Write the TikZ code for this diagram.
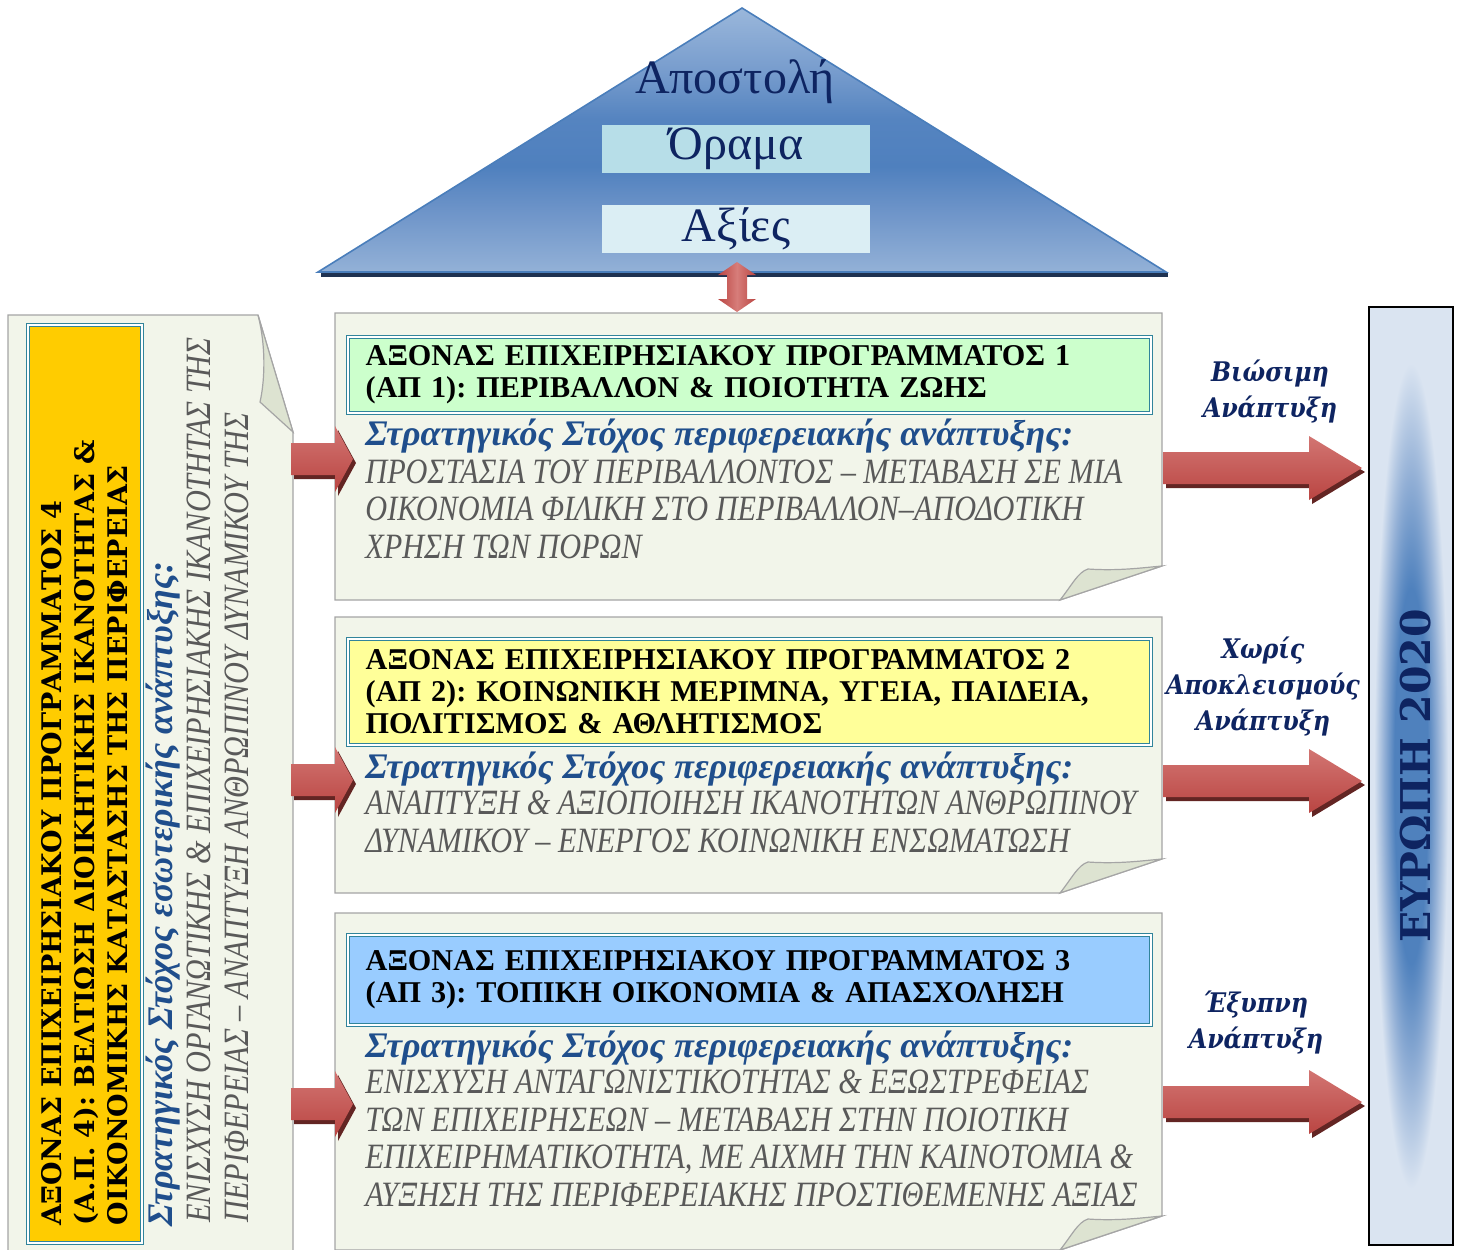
\documentclass[tikz,border=0pt]{standalone}
\usepackage{fontspec}
\setmainfont{Liberation Serif}
\newfontfamily\narrowserif[FakeStretch=0.85]{Liberation Serif}
\newfontfamily\bookserif{DejaVu Serif}
\newfontfamily\booknarrow[FakeStretch=0.88]{DejaVu Serif}
\frenchspacing

\definecolor{paperfill}{HTML}{F2F5EA}
\definecolor{paperedge}{HTML}{A5A5A5}
\definecolor{foldfill}{HTML}{DDE3D1}
\definecolor{axisteal}{HTML}{31849B}
\definecolor{axisgreen}{HTML}{CCFFCC}
\definecolor{axisyellow}{HTML}{FFFF99}
\definecolor{axisblue}{HTML}{99CCFF}
\definecolor{axisgold}{HTML}{FFCC00}
\definecolor{goalblue}{HTML}{1F4E8C}
\definecolor{goalgrey}{HTML}{595959}
\definecolor{navytext}{HTML}{0E2461}
\definecolor{roofA}{HTML}{93B1D7}
\definecolor{roofB}{HTML}{6C93C8}
\definecolor{roofC}{HTML}{4F80BE}
\definecolor{roofD}{HTML}{5584C0}
\definecolor{roofE}{HTML}{779CCD}
\definecolor{roofF}{HTML}{9AB7DB}
\definecolor{roofedge}{HTML}{4A7EBB}
\definecolor{roofshadow}{HTML}{1F3251}
\definecolor{visionfill}{HTML}{B7DEE8}
\definecolor{valuesfill}{HTML}{DBEEF4}
\definecolor{arrowlight}{HTML}{D27572}
\definecolor{arrowmid}{HTML}{D77D7A}
\definecolor{arrowred}{HTML}{BA4542}
\definecolor{arrowdark}{HTML}{632523}
\definecolor{europelight}{HTML}{DAE4F1}
\definecolor{europemid}{HTML}{93B0D6}
\definecolor{europedark}{HTML}{4F81BD}

% the path box covers 25bp--75bp of these shadings
\pgfdeclareverticalshading{roofshade}{100bp}{color(0bp)=(roofA); color(25bp)=(roofA); color(37bp)=(roofB); color(45bp)=(roofC); color(54bp)=(roofD); color(63bp)=(roofE); color(75bp)=(roofF); color(100bp)=(roofF)}
\pgfdeclareradialshading{europeshade}{\pgfpoint{0bp}{0bp}}{color(0bp)=(europedark); color(10bp)=(europedark); color(16bp)=(europemid); color(22bp)=(europelight); color(50bp)=(europelight)}

\tikzset{
  papernote/.style={fill=paperfill, draw=paperedge, line width=0.6pt},
  paperfold/.style={fill=foldfill, draw=paperedge, line width=0.6pt},
  axisbox/.style={draw=axisteal, double=white, double distance=0.8pt, line width=0.7pt,
    anchor=north west, inner xsep=9pt, inner ysep=0pt, text width=383.5pt, align=left,
    font=\fontsize{15.1}{16}\selectfont\bfseries},
  goaltitle/.style={anchor=base west, inner sep=0pt, text=goalblue,
    font=\fontsize{18}{19}\selectfont\bfseries\itshape},
  goaltext/.style={anchor=base west, inner sep=0pt, align=left, text=goalgrey,
    font=\narrowserif\itshape\fontsize{17.8}{18.75}\selectfont},
  growthtag/.style={align=center, inner sep=0pt, text=navytext,
    font=\booknarrow\bfseries\itshape\fontsize{13.5}{18}\selectfont},
  roofword/.style={inner sep=0pt, text=navytext, font=\fontsize{24}{26}\selectfont},
  redshaft/.style={top color=arrowlight, bottom color=arrowred},
  redshadow/.style={fill=arrowdark},
}

\begin{document}
\begin{tikzpicture}[x=0.5pt, y=-0.5pt]
	\clip (0,0) rectangle (1459,1249);

	% roof: mission, vision, values
	\fill[roofshadow] (321,272) rectangle (1168,277);
	\shadedraw[shading=roofshade, draw=roofedge, line width=0.8pt] (318,272) -- (742,8) -- (1166,272) -- cycle;
	\node[roofword] (mission) at (735,82) {Αποστολή};
	\node[roofword, fill=visionfill, minimum width=134pt, minimum height=24pt] (vision) at (736,149) {Όραμα};
	\node[roofword, fill=valuesfill, minimum width=134pt, minimum height=24pt] (values) at (736,229) {Αξίες};

	% left note (axis 4)
	\draw[papernote] (8,315) -- (258,315) -- (293,432) -- (293,1252) -- (8,1252) -- cycle;
	\draw[paperfold] (258,315) .. controls (267,350) and (264,385) .. (260,402) -- (293,432) -- cycle;

	% notes of axes 1-3
	\foreach \top/\bot in {313/600, 617/893, 913/1250} {
		\draw[papernote] (335,\top) -- (1162,\top) -- (1162,\bot-34) -- (1060,\bot) -- (335,\bot) -- cycle;
		\draw[paperfold] (1060,\bot) .. controls (1072,\bot-15) and (1078,\bot-28) .. (1088,\bot-31)
			.. controls (1118,\bot-29) and (1140,\bot-32) .. (1162,\bot-34) -- cycle;
	}

	\node[axisbox, fill=axisgreen, minimum height=38pt] (ax1) at (347,336)
		{ΑΞΟΝΑΣ ΕΠΙΧΕΙΡΗΣΙΑΚΟΥ ΠΡΟΓΡΑΜΜΑΤΟΣ 1\\(ΑΠ 1): ΠΕΡΙΒΑΛΛΟΝ \& ΠΟΙΟΤΗΤΑ ΖΩΗΣ};
	\node[axisbox, fill=axisyellow, minimum height=53pt] (ax2) at (347,638)
		{ΑΞΟΝΑΣ ΕΠΙΧΕΙΡΗΣΙΑΚΟΥ ΠΡΟΓΡΑΜΜΑΤΟΣ 2\\\makebox[384pt][s]{(ΑΠ 2): ΚΟΙΝΩΝΙΚΗ ΜΕΡΙΜΝΑ, ΥΓΕΙΑ, ΠΑΙΔΕΙΑ,}\\ΠΟΛΙΤΙΣΜΟΣ \& ΑΘΛΗΤΙΣΜΟΣ};
	\node[axisbox, fill=axisblue, minimum height=45pt] (ax3) at (347,934)
		{ΑΞΟΝΑΣ ΕΠΙΧΕΙΡΗΣΙΑΚΟΥ ΠΡΟΓΡΑΜΜΑΤΟΣ 3\\(ΑΠ 3): ΤΟΠΙΚΗ ΟΙΚΟΝΟΜΙΑ \& ΑΠΑΣΧΟΛΗΣΗ};

	% goal texts, anchored at their last line
	\node[goaltitle] (goal1) at (365,445) {Στρατηγικός Στόχος περιφερειακής ανάπτυξης:};
	\node[goaltext] (text1) at (365,558) {ΠΡΟΣΤΑΣΙΑ ΤΟΥ ΠΕΡΙΒΑΛΛΟΝΤΟΣ – ΜΕΤΑΒΑΣΗ ΣΕ ΜΙΑ\\ΟΙΚΟΝΟΜΙΑ ΦΙΛΙΚΗ ΣΤΟ ΠΕΡΙΒΑΛΛΟΝ–ΑΠΟΔΟΤΙΚΗ\\ΧΡΗΣΗ ΤΩΝ ΠΟΡΩΝ};
	\node[goaltitle] (goal2) at (365,778) {Στρατηγικός Στόχος περιφερειακής ανάπτυξης:};
	\node[goaltext] (text2) at (365,852) {ΑΝΑΠΤΥΞΗ \& ΑΞΙΟΠΟΙΗΣΗ ΙΚΑΝΟΤΗΤΩΝ ΑΝΘΡΩΠΙΝΟΥ\\ΔΥΝΑΜΙΚΟΥ – ΕΝΕΡΓΟΣ ΚΟΙΝΩΝΙΚΗ ΕΝΣΩΜΑΤΩΣΗ};
	\node[goaltitle] (goal3) at (365,1057) {Στρατηγικός Στόχος περιφερειακής ανάπτυξης:};
	\node[goaltext] (text3) at (365,1206) {ΕΝΙΣΧΥΣΗ ΑΝΤΑΓΩΝΙΣΤΙΚΟΤΗΤΑΣ \& ΕΞΩΣΤΡΕΦΕΙΑΣ\\ΤΩΝ ΕΠΙΧΕΙΡΗΣΕΩΝ – ΜΕΤΑΒΑΣΗ ΣΤΗΝ ΠΟΙΟΤΙΚΗ\\ΕΠΙΧΕΙΡΗΜΑΤΙΚΟΤΗΤΑ, ΜΕ ΑΙΧΜΗ ΤΗΝ ΚΑΙΝΟΤΟΜΙΑ \&\\ΑΥΞΗΣΗ ΤΗΣ ΠΕΡΙΦΕΡΕΙΑΚΗΣ ΠΡΟΣΤΙΘΕΜΕΝΗΣ ΑΞΙΑΣ};

	% axis 4, written upwards
	\node[rotate=90, draw=axisteal, double=white, double distance=0.8pt, line width=0.7pt, fill=axisgold,
		minimum width=459pt, minimum height=57pt, inner xsep=9pt, inner ysep=0pt, text width=441pt, align=left,
		font=\bookserif\bfseries\fontsize{13.5}{16.5}\selectfont] (ax4) at (85,784)
		{ΑΞΟΝΑΣ ΕΠΙΧΕΙΡΗΣΙΑΚΟΥ ΠΡΟΓΡΑΜΜΑΤΟΣ 4\\(Α.Π. 4): ΒΕΛΤΙΩΣΗ ΔΙΟΙΚΗΤΙΚΗΣ ΙΚΑΝΟΤΗΤΑΣ \&\\ΟΙΚΟΝΟΜΙΚΗΣ ΚΑΤΑΣΤΑΣΗΣ ΤΗΣ ΠΕΡΙΦΕΡΕΙΑΣ};
	\node[goaltitle, rotate=90] (goal4) at (172,1227) {Στρατηγικός Στόχος εσωτερικής ανάπτυξης:};
	\node[goaltext, rotate=90] (text4) at (248,1223) {ΕΝΙΣΧΥΣΗ ΟΡΓΑΝΩΤΙΚΗΣ \& ΕΠΙΧΕΙΡΗΣΙΑΚΗΣ ΙΚΑΝΟΤΗΤΑΣ ΤΗΣ\\ΠΕΡΙΦΕΡΕΙΑΣ – ΑΝΑΠΤΥΞΗ ΑΝΘΡΩΠΙΝΟΥ ΔΥΝΑΜΙΚΟΥ ΤΗΣ};

	% Europe 2020
	\node[draw=black, line width=1.2pt, shading=europeshade, minimum width=42pt, minimum height=469pt] (eu) at (1411,776) {};
	\node[rotate=90, inner sep=0pt, text=navytext, font=\bookserif\bfseries\fontsize{20.5}{24}\selectfont] (eutext) at (1416,776) {ΕΥΡΩΠΗ 2020};

	\node[growthtag] (sust) at (1270,392) {Βιώσιμη\\Ανάπτυξη};
	\node[growthtag] (incl) at (1263,686) {Χωρίς\\Αποκλεισμούς\\Ανάπτυξη};
	\node[growthtag] (smart) at (1256,1022) {Έξυπνη\\Ανάπτυξη};

	% arrows
	\shade[left color=arrowred, right color=arrowred, middle color=arrowmid]
		(737,262) -- (756,275) -- (747,275) -- (747,299) -- (756,299) -- (737,312)
		-- (718,299) -- (727,299) -- (727,275) -- (718,275) -- cycle;
	\foreach \yc in {459,780,1104} {
		\fill[redshadow] (294,\yc-12) -- (338,\yc-12) -- (338,\yc-29) -- (356,\yc+4) -- (338,\yc+37) -- (338,\yc+20) -- (294,\yc+20) -- cycle;
		\shade[redshaft] (291,\yc-16) -- (335,\yc-16) -- (335,\yc-33) -- (353,\yc) -- (335,\yc+33) -- (335,\yc+16) -- (291,\yc+16) -- cycle;
	}
	\foreach \yc in {468,781,1102} {
		\fill[redshadow] (1166,\yc-12) -- (1312,\yc-12) -- (1312,\yc-28) -- (1365,\yc+4) -- (1312,\yc+36) -- (1312,\yc+20) -- (1166,\yc+20) -- cycle;
		\shade[redshaft] (1163,\yc-16) -- (1309,\yc-16) -- (1309,\yc-32) -- (1362,\yc) -- (1309,\yc+32) -- (1309,\yc+16) -- (1163,\yc+16) -- cycle;
	}
\end{tikzpicture}
\end{document}
